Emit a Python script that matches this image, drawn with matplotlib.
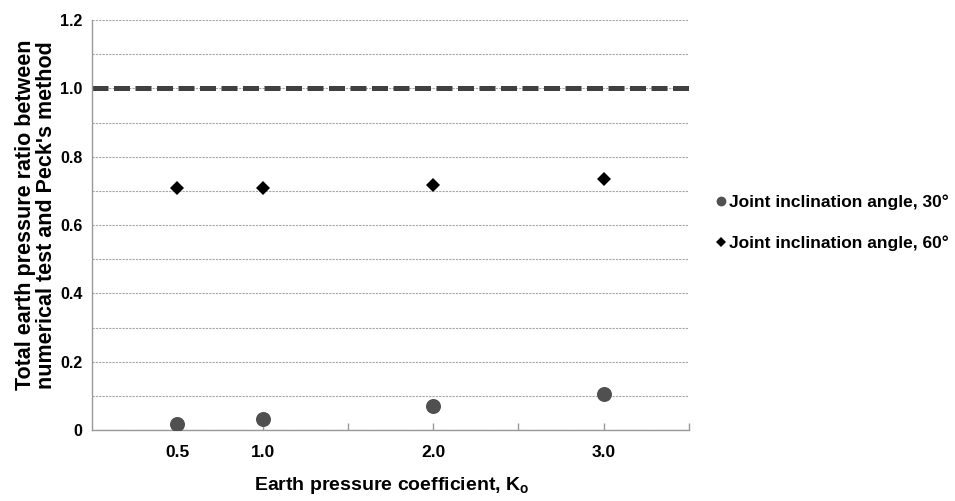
import matplotlib
matplotlib.use("Agg")
import matplotlib.pyplot as plt
from matplotlib.ticker import FixedLocator, MultipleLocator

plt.rcParams['font.family'] = ['Liberation Sans', 'DejaVu Sans']
plt.rcParams['font.weight'] = 'bold'
plt.rcParams['mathtext.fontset'] = 'custom'
plt.rcParams['mathtext.rm'] = 'Liberation Sans:bold'
plt.rcParams['mathtext.bf'] = 'Liberation Sans:bold'
plt.rcParams['mathtext.it'] = 'Liberation Sans:bold'

# Data
k0 = [0.5, 1.0, 2.0, 3.0]
ratio_30 = [0.018, 0.033, 0.070, 0.104]
ratio_60 = [0.709, 0.709, 0.717, 0.734]
x_tick_vals = [0.5, 1.0, 2.0, 3.0]
x_tick_labels = ["0.5", "1.0", "2.0", "3.0"]
y_tick_vals = [0, 0.2, 0.4, 0.6, 0.8, 1.0, 1.2]
y_tick_labels = ["0", "0.2", "0.4", "0.6", "0.8", "1.0", "1.2"]
reference_ratio = 1.0

fig = plt.figure(figsize=(9.55, 5.01), dpi=100)
ax = fig.add_axes([92/955, 1-430/501, (689-92)/955, (430-20)/501])

ax.set_xlim(0, 3.5)
ax.set_ylim(0, 1.2)

# gridlines every 0.1
ax.yaxis.set_minor_locator(MultipleLocator(0.1))
ax.grid(axis='y', which='both', color='#a6a6a6', linestyle=(0, (2, 1)), linewidth=0.8, zorder=0)
ax.set_axisbelow(True)

# reference dashed line
ax.axhline(reference_ratio, color='#404040', linewidth=3.6, linestyle=(0, (3.2, 1.1)), zorder=2)

ax.plot(k0, ratio_30, linestyle='none', marker='o', markersize=10.8, color='#505050',
        markeredgewidth=0, label='Joint inclination angle, 30°', zorder=3)
ax.plot(k0, ratio_60, linestyle='none', marker='D', markersize=7.6, color='black',
        markeredgewidth=0, label='Joint inclination angle, 60°', zorder=3)

# spines
for s in ['top', 'right']:
    ax.spines[s].set_visible(False)
for s in ['left', 'bottom']:
    ax.spines[s].set_color('#999999')
    ax.spines[s].set_linewidth(1.0)

# ticks
ax.set_xticks(x_tick_vals)
ax.set_xticklabels(x_tick_labels)
ax.xaxis.set_minor_locator(FixedLocator([1.5, 2.5, 3.5]))
ax.tick_params(axis='x', which='both', direction='in', length=5, color='#999999', width=1)
ax.tick_params(axis='x', which='major', pad=11, labelsize=12.5)
ax.set_yticks(y_tick_vals)
ax.set_yticklabels(y_tick_labels)
ax.tick_params(axis='y', which='both', length=0, pad=7, labelsize=11.5)

for lbl in ax.get_xticklabels() + ax.get_yticklabels():
    lbl.set_fontweight('bold')

ax.set_xlabel(r"Earth pressure coefficient, K$_\mathrm{o}$", fontsize=14, fontweight='bold')
ax.xaxis.set_label_coords(0.502, -0.11)
ax.set_ylabel("Total earth pressure ratio between\nnumerical test and Peck's method",
              fontsize=15.5, fontweight='bold', linespacing=1.05)
ax.yaxis.set_label_coords(-0.058, 0.525)

leg_handles, leg_labels = ax.get_legend_handles_labels()
leg = fig.legend(leg_handles, leg_labels, loc='center left', bbox_to_anchor=(717/955, 1-223/501),
                 frameon=False, fontsize=12.5, handlelength=0.45, handletextpad=0.25,
                 labelspacing=1.45, borderpad=0, borderaxespad=0, markerscale=0.65)
for t in leg.get_texts():
    t.set_fontweight('bold')

fig.savefig("out.png", dpi=100)
